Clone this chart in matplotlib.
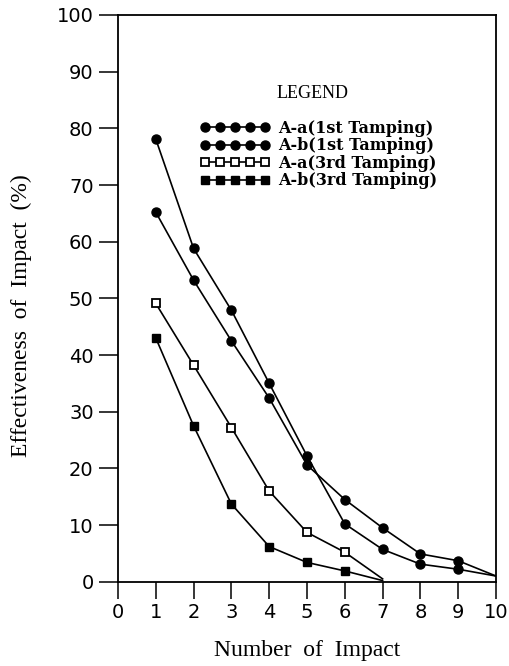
import matplotlib

matplotlib.use("Agg")
import matplotlib.pyplot as plt
from matplotlib.lines import Line2D

# Valores
impactos_1ra = [1, 2, 3, 4, 5, 6, 7, 8, 9, 10]
aa_1ra = [78.1, 58.8, 47.9, 35.0, 22.2, 10.2, 5.7, 3.1, 2.2, 1.0]
ab_1ra = [65.2, 53.2, 42.5, 32.4, 20.6, 14.5, 9.5, 4.9, 3.7, 1.0]

impactos_3ra = [1, 2, 3, 4, 5, 6, 7]
aa_3ra = [49.1, 38.2, 27.2, 16.0, 8.7, 5.2, 0.5]
ab_3ra = [43.0, 27.5, 13.7, 6.2, 3.4, 1.9, 0.2]

etiquetas = [
    "A-a(1st Tamping)",
    "A-b(1st Tamping)",
    "A-a(3rd Tamping)",
    "A-b(3rd Tamping)",
]

fig = plt.figure(figsize=(5.09, 6.66), dpi=100)
ax = fig.add_axes([118 / 509, 84.3 / 666, 378 / 509, 566.7 / 666])

estilos = [
    dict(marker="o", markerfacecolor="black", markersize=6.5),
    dict(marker="o", markerfacecolor="black", markersize=6.5),
    dict(marker="s", markerfacecolor="white", markersize=5.5, markeredgewidth=1.3),
    dict(marker="s", markerfacecolor="black", markersize=5.5),
]
series = [
    (impactos_1ra, aa_1ra),
    (impactos_1ra, ab_1ra),
    (impactos_3ra, aa_3ra),
    (impactos_3ra, ab_3ra),
]

manijas = []
for (x, y), estilo, etiqueta in zip(series, estilos, etiquetas):
    ax.plot(
        x,
        y,
        color="black",
        linewidth=1.2,
        markeredgecolor="black",
        markevery=list(range(len(x) - 1)),
        **estilo,
    )
    manijas.append(
        Line2D([], [], color="black", linewidth=1.2, markeredgecolor="black", **estilo)
    )

ax.set_xlim(0, 10)
ax.set_ylim(0, 100)
ax.set_xticks(range(0, 11))
ax.set_yticks(range(0, 101, 10))
for lado in ax.spines.values():
    lado.set_linewidth(1.3)
ax.tick_params(axis="x", direction="out", length=12, width=1.1, labelsize=14, pad=3)
ax.tick_params(axis="y", direction="out", length=13.5, width=1.1, labelsize=14, pad=4)
for t in ax.get_xticklabels() + ax.get_yticklabels():
    t.set_fontfamily("DejaVu Sans")

ax.set_xlabel("Number  of  Impact", fontfamily="Liberation Serif", fontsize=17)
ax.set_ylabel(
    "Effectiveness  of  Impact  (%)", fontfamily="Liberation Serif", fontsize=17
)
ax.xaxis.set_label_coords(0.5, -0.103)
ax.yaxis.set_label_coords(-0.228, 0.469)

ax.text(
    (313 - 118) / 378,
    (581.7 - 93) / 566.7,
    "LEGEND",
    transform=ax.transAxes,
    fontfamily="Liberation Serif",
    fontsize=13,
    ha="center",
    va="center",
)
ax.legend(
    manijas,
    etiquetas,
    loc="upper left",
    bbox_to_anchor=((200 - 118) / 378, (581.7 - 120) / 566.7),
    frameon=False,
    numpoints=5,
    handlelength=4.4,
    handletextpad=0.5,
    labelspacing=0.03,
    borderpad=0,
    borderaxespad=0,
    prop={"family": "DejaVu Serif", "weight": "bold", "size": 11.5},
)

fig.savefig("out.png", dpi=100)
